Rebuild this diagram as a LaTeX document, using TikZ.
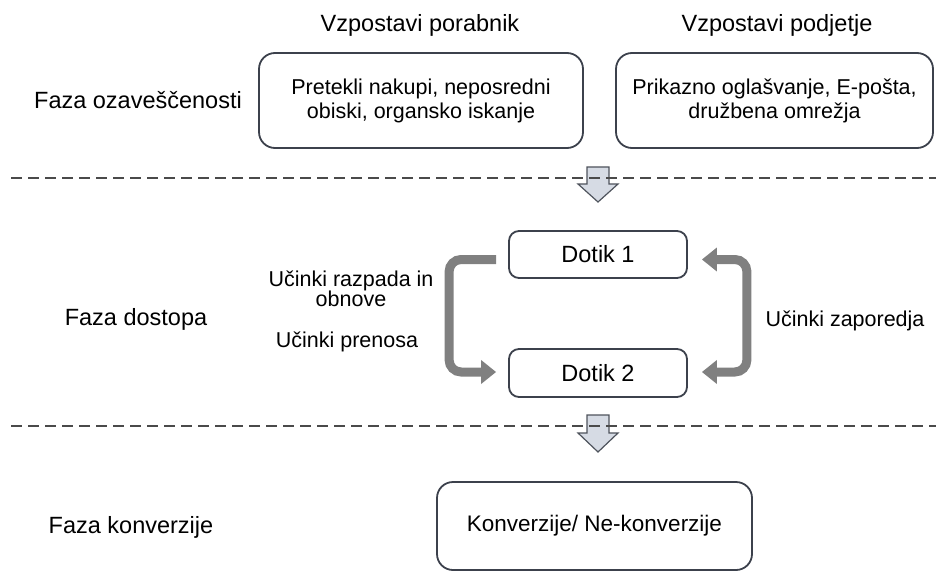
\documentclass[tikz,border=0pt]{standalone}
\usepackage{fontspec}
\setmainfont{Liberation Sans}
\usetikzlibrary{arrows.meta}
\definecolor{boxline}{HTML}{3C414C}
\definecolor{arrowfill}{HTML}{D6DBE4}
\definecolor{arrowline}{HTML}{4E535C}
\definecolor{flowgray}{HTML}{808080}
\definecolor{dashcol}{HTML}{4A4A4A}
\begin{document}
\begin{tikzpicture}[x=1pt,y=-1pt,
  font=\fontsize{23.5}{25}\selectfont,
  smalltext/.style={font=\fontsize{21.5}{24}\selectfont},
  box/.style={draw=boxline, line width=1.8pt, rounded corners=16pt, align=center, inner sep=0pt},
  lbl/.style={inner sep=0pt, anchor=base},
  sep/.style={draw=dashcol, line width=1.5pt, dash pattern=on 11pt off 6pt},
  flowtip/.tip={Triangle[length=15pt,width=23pt]},
  flow/.style={draw=flowgray, line width=9pt, rounded corners=12pt},
  blockarrow/.style={fill=arrowfill, draw=arrowline, line width=1.2pt, line join=miter}]
\useasboundingbox (0,0) rectangle (944,572);

% column headers
\node[lbl] (hc) at (420,32) {Vzpostavi porabnik};
\node[lbl] (hf) at (777,32) {Vzpostavi podjetje};

% phase labels
\node[lbl] (p1) at (138,109) {Faza ozaveščenosti};
\node[lbl] (p2) at (136,325) {Faza dostopa};
\node[lbl] (p3) at (131,533) {Faza konverzije};

% top boxes
\node[box, smalltext, minimum width=324pt, minimum height=95pt] (b1) at (421,100.5)
  {Pretekli nakupi, neposredni\\obiski, organsko iskanje};
\node[box, smalltext, minimum width=317pt, minimum height=95pt] (b2) at (774.5,100.5)
  {Prikazno oglašvanje, E-pošta,\\družbena omrežja};

% touch boxes
\node[box, rounded corners=10pt, minimum width=178pt, minimum height=47pt] (d1) at (598,254.5) {Dotik 1};
\node[box, rounded corners=10pt, minimum width=178pt, minimum height=48pt] (d2) at (598,373) {Dotik 2};

% conversion box
\node[box, font=\fontsize{22.5}{24}\selectfont, minimum width=315pt, minimum height=88pt] (cv) at (594.5,526) {Konverzije/ Ne-konverzije};

% block arrows between phases
\coordinate (ba1) at (598,167);
\coordinate (ba2) at (598,415);
\draw[blockarrow] (ba1) ++(-11,0) -- ++(22,0) -- ++(0,17) -- ++(9,0) -- ++(-20,18) -- ++(-20,-18) -- ++(9,0) -- cycle;
\draw[blockarrow] (ba2) ++(-11,0) -- ++(22,0) -- ++(0,18) -- ++(9,0) -- ++(-20,19) -- ++(-20,-19) -- ++(9,0) -- cycle;

% dashed separators
\coordinate (s1l) at (11,178);
\coordinate (s1r) at (936,178);
\coordinate (s2l) at (11,426);
\coordinate (s2r) at (936,426);
\draw[sep] (s1l) -- (s1r);
\draw[sep] (s2l) -- (s2r);

% gray flow arrows
\draw[flow, -flowtip] ([xshift=-12pt,yshift=-5pt]d1.west) -- ++(-47,0) |- ([xshift=-12pt,yshift=1pt]d2.west);
\draw[flow, flowtip-flowtip] ([xshift=14pt,yshift=-5pt]d1.east) -- ++(45,0) |- ([xshift=14pt,yshift=1pt]d2.east);

% effect labels
\node[inner sep=0pt, align=center, font=\fontsize{21.5}{20.5}\selectfont] (e1) at (351,289) {Učinki razpada in\\obnove};
\node[lbl, smalltext] (e2) at (347,347) {Učinki prenosa};
\node[lbl, smalltext] (e3) at (845,326) {Učinki zaporedja};
\end{tikzpicture}
\end{document}
